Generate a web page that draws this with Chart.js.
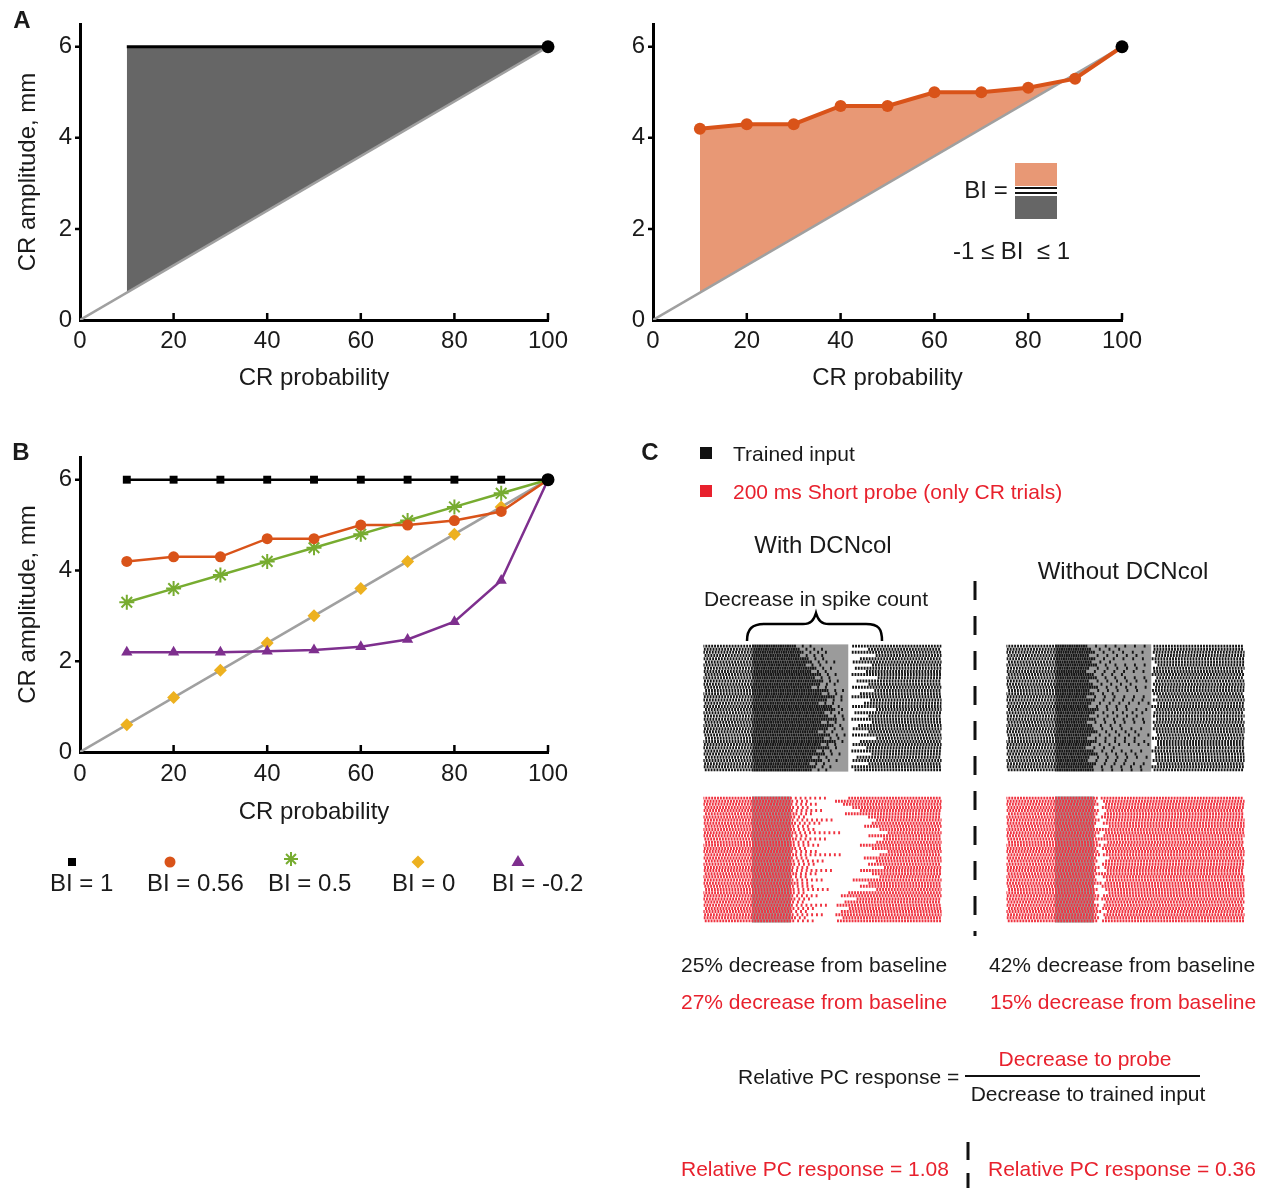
<!DOCTYPE html>
<html>
<head>
<meta charset="utf-8">
<script src="https://cdn.jsdelivr.net/npm/chart.js@4.4.1/dist/chart.umd.min.js"></script>
<style>
  body { margin: 0; background: #fff; }
  #fig { position: relative; width: 1270px; height: 1188px; overflow: hidden;
         font-family: 'Liberation Sans', Arial, sans-serif; color: #1a1a1a; }
  canvas { position: absolute; }
  .t { position: absolute; white-space: pre; line-height: 1; transform: translate(-50%, -50%); }
  .l { position: absolute; white-space: pre; line-height: 1; transform: translateY(-50%); }
  .s21 { font-size: 21px; }
  .s24 { font-size: 24px; }
  .bold { font-weight: bold; }
  .red { color: #E8212D; }
  .box { position: absolute; }
</style>
</head>
<body>
<div id="fig">
  <canvas id="a1" width="600" height="400" style="left:0;top:0"></canvas>
  <canvas id="a2" width="600" height="400" style="left:573px;top:0"></canvas>
  <canvas id="b" width="600" height="400" style="left:0;top:430px"></canvas>
  <canvas id="rTL" width="245" height="134" style="left:700px;top:641px"></canvas>
  <canvas id="rTR" width="245" height="134" style="left:1003px;top:641px"></canvas>
  <canvas id="rBL" width="245" height="133" style="left:700px;top:793px"></canvas>
  <canvas id="rBR" width="245" height="133" style="left:1003px;top:793px"></canvas>

  <svg width="1270" height="1188" style="position:absolute;left:0;top:0">
    <path d="M747,641 C747,629 752,624 765,624 L803,624 C811,624 814,620 816,613 C818,620 821,624 829,624 L866,624 C879,624 882,629 882,641"
          stroke="#000" stroke-width="2.5" fill="none"/>
    <line x1="975" y1="581" x2="975" y2="936" stroke="#111" stroke-width="3" stroke-dasharray="19 16"/>
    <line x1="968" y1="1142" x2="968" y2="1188" stroke="#111" stroke-width="3" stroke-dasharray="18 13"/>
    <g id="legendB"></g>
  </svg>

  <!-- panel letters -->
  <div class="t s24 bold" style="left:22px;top:20px">A</div>
  <div class="t s24 bold" style="left:21px;top:452px">B</div>
  <div class="t s24 bold" style="left:650px;top:452px">C</div>

  <!-- BI definition inside the right panel of A -->
  <div class="t s24" style="left:986px;top:190px">BI =</div>
  <div class="box" style="left:1015px;top:163px;width:42px;height:23px;background:rgba(217,83,25,0.6)"></div>
  <div class="box" style="left:1015px;top:187px;width:42px;height:2px;background:#111"></div>
  <div class="box" style="left:1015px;top:192px;width:42px;height:2px;background:#111"></div>
  <div class="box" style="left:1015px;top:196px;width:42px;height:23px;background:#666"></div>
  <div class="l s24" style="left:953px;top:251px">-1 ≤ BI  ≤ 1</div>

  <div id="legendBText"></div>

  <!-- panel C labels -->
  <div class="box" style="left:700px;top:447px;width:12px;height:12px;background:#111"></div>
  <div class="l s21" style="left:733px;top:453px">Trained input</div>
  <div class="box" style="left:700px;top:485px;width:12px;height:12px;background:#E8212D"></div>
  <div class="l s21 red" style="left:733px;top:491px">200 ms Short probe (only CR trials)</div>

  <div class="t s24" style="left:823px;top:545px">With DCNcol</div>
  <div class="t s24" style="left:1123px;top:571px">Without DCNcol</div>
  <div class="t s21" style="left:816px;top:598px">Decrease in spike count</div>

  <div class="l s21" style="left:681px;top:964px">25% decrease from baseline</div>
  <div class="l s21" style="left:989px;top:964px">42% decrease from baseline</div>
  <div class="l s21 red" style="left:681px;top:1001px">27% decrease from baseline</div>
  <div class="l s21 red" style="left:990px;top:1001px">15% decrease from baseline</div>

  <div class="l s21" style="left:738px;top:1076px">Relative PC response =</div>
  <div class="t s21 red" style="left:1085px;top:1058px">Decrease to probe</div>
  <div class="box" style="left:965px;top:1075px;width:235px;height:2px;background:#111"></div>
  <div class="t s21" style="left:1088px;top:1093px">Decrease to trained input</div>

  <div class="l s21 red" style="left:681px;top:1168px">Relative PC response = 1.08</div>
  <div class="l s21 red" style="left:988px;top:1168px">Relative PC response = 0.36</div>
</div>

<script>
// CR amplitude (mm) against CR probability (%)
const prob = [10, 20, 30, 40, 50, 60, 70, 80, 90, 100];
const diagX = [0, 100];
const diagY = [0, 6];
const bi1 = [6, 6, 6, 6, 6, 6, 6, 6, 6, 6];
const bi056 = [4.2, 4.3, 4.3, 4.7, 4.7, 5.0, 5.0, 5.1, 5.3, 6];
const bi05 = [3.3, 3.6, 3.9, 4.2, 4.5, 4.8, 5.1, 5.4, 5.7, 6];
const bi0 = [0.6, 1.2, 1.8, 2.4, 3.0, 3.6, 4.2, 4.8, 5.4, 6];
const biNeg02 = [2.2, 2.2, 2.2, 2.22, 2.25, 2.32, 2.48, 2.87, 3.78, 6];
const xTicks = [0, 20, 40, 60, 80, 100];
const yTicks = [0, 2, 4, 6];
const biLabels = ['BI = 1', 'BI = 0.56', 'BI = 0.5', 'BI = 0', 'BI = -0.2'];

// PC rasters: one row per trial, times in ms from CS onset
const rasterRows = 40;
const rasterWindow = [-250, 975];
const baseIsi = 15;
const rowPhase = [0, 7, 3, 11, 5, 13, 2, 9, 6, 12, 1, 8, 4, 10, 14];
const trainedShade = [0, 495];
const probeShade = [0, 200];

// with DCNcol, trained input
const tlOnset = [215, 240, 260, 235, 285, 300, 265, 320, 290, 345, 310, 360, 335, 300, 385, 350, 410, 370, 330, 395,
                 420, 365, 385, 425, 350, 405, 375, 330, 395, 360, 415, 340, 385, 320, 365, 300, 345, 280, 320, 300];
const tlQuiet = [340, 370, 390, 365, 405, 425, 385, 435, 405, 455, 425, 470, 445, 415, 480, 460, 490, 470, 440, 480,
                 490, 460, 470, 490, 450, 480, 470, 430, 480, 460, 490, 440, 470, 420, 460, 410, 450, 400, 430, 410];
const tlResume = [520, 600, 515, 640, 560, 520, 620, 530, 590, 515, 650, 540, 600, 520, 630, 560, 515, 610, 580, 520,
                  640, 530, 600, 515, 620, 550, 520, 600, 520, 640, 560, 520, 590, 515, 620, 540, 520, 600, 515, 530];
// without DCNcol, trained input
const trOnset = [150, 170, 190, 160, 200, 180, 210, 170, 150, 190, 200, 160, 180, 210, 170, 190, 150, 200, 180, 160,
                 210, 190, 170, 200, 150, 180, 190, 210, 170, 160, 200, 180, 150, 190, 210, 170, 160, 200, 180, 190];
const trQuiet = [470, 380, 490, 430, 485, 300, 480, 450, 490, 360, 475, 490, 420, 485, 470, 340, 490, 460, 485, 400,
                 480, 490, 440, 470, 490, 380, 485, 460, 490, 420, 475, 490, 350, 480, 460, 490, 410, 485, 470, 490];
const trResume = [500, 510, 505, 520, 500, 515, 530, 505, 510, 500, 525, 510, 505, 520, 500, 510, 530, 505, 515, 500,
                  520, 510, 505, 525, 500, 515, 505, 520, 510, 500, 530, 505, 515, 500, 520, 510, 505, 525, 500, 510];
// with DCNcol, short probe
const blOnset = [200, 205, 200, 210, 200, 215, 205, 200, 220, 200, 205, 210, 200, 215, 200, 205, 210, 200, 225, 205,
                 200, 210, 205, 200, 215, 200, 205, 220, 200, 210, 205, 200, 215, 205, 200, 210, 200, 205, 215, 200];
const blQuiet = [380, 300, 340, 290, 370, 320, 280, 420, 360, 300, 330, 450, 290, 400, 310, 350, 280, 330, 460, 300,
                 370, 320, 290, 410, 340, 280, 360, 300, 330, 390, 290, 350, 310, 280, 400, 320, 300, 360, 290, 330];
const blResume = [500, 430, 470, 520, 560, 480, 600, 640, 620, 580, 660, 700, 600, 680, 640, 560, 620, 700, 660, 580,
                  640, 600, 680, 560, 620, 660, 520, 600, 560, 640, 500, 460, 540, 480, 440, 500, 460, 430, 470, 440];
// without DCNcol, short probe
const brOnset = [190, 170, 185, 160, 200, 175, 150, 195, 180, 165, 200, 185, 160, 190, 175, 200, 155, 180, 195, 170,
                 185, 160, 200, 175, 190, 165, 180, 200, 155, 185, 170, 195, 180, 160, 190, 175, 200, 165, 185, 170];
const brQuiet = [230, 215, 225, 210, 235, 220, 205, 230, 220, 210, 235, 225, 205, 230, 215, 235, 210, 220, 230, 215,
                 225, 205, 235, 220, 230, 210, 220, 235, 205, 225, 215, 230, 220, 210, 230, 215, 235, 210, 225, 215];
const brResume = [240, 250, 260, 245, 270, 255, 240, 265, 250, 280, 245, 260, 250, 240, 270, 255, 245, 265, 250, 285,
                  260, 245, 255, 270, 240, 250, 265, 255, 245, 260, 280, 250, 240, 265, 255, 245, 270, 250, 260, 245];

Chart.defaults.font.family = "'Liberation Sans', Arial, sans-serif";
Chart.defaults.color = '#1a1a1a';

const ORANGE = '#D95319', GREEN = '#77AC30', YELLOW = '#EDB120', PURPLE = '#7E2F8E';
const GRAY_LINE = '#A0A0A0';

const pts = (xs, ys) => xs.map((x, i) => ({ x, y: ys[i] }));
const lastHidden = (r) => prob.map(v => (v < 100 ? r : 0));

// short inward ticks on x, outward ticks on y
const axisTicks = {
  id: 'axisTicks',
  afterDraw(chart) {
    const { ctx, chartArea: a, scales: { x, y } } = chart;
    ctx.save();
    ctx.strokeStyle = '#000';
    ctx.lineWidth = 2.5;
    ctx.beginPath();
    xTicks.slice(1).forEach(v => {
      const px = x.getPixelForValue(v);
      ctx.moveTo(px, a.bottom);
      ctx.lineTo(px, a.bottom - 7);
    });
    yTicks.slice(1).forEach(v => {
      const py = y.getPixelForValue(v);
      ctx.moveTo(a.left, py);
      ctx.lineTo(a.left - 5, py);
    });
    ctx.stroke();
    ctx.restore();
  }
};

function curveChart(id, datasets, g) {
  return new Chart(document.getElementById(id), {
    type: 'scatter',
    data: { datasets },
    options: {
      responsive: false,
      animation: false,
      events: [],
      layout: { padding: { left: 0, top: g.top, right: g.right, bottom: 0 } },
      plugins: {
        legend: { display: false },
        tooltip: { enabled: false },
        filler: { drawTime: 'beforeDatasetsDraw' }
      },
      scales: {
        x: {
          type: 'linear', min: 0, max: 100,
          grid: { display: false, drawTicks: false },
          border: { color: '#000', width: 3 },
          afterBuildTicks: s => { s.ticks = xTicks.map(v => ({ value: v })); },
          afterFit: s => { s.height = g.xHeight; },
          ticks: { font: { size: 24 }, padding: g.xTickPad, maxRotation: 0 },
          title: { display: true, text: 'CR probability', font: { size: 24 },
                   padding: { top: 0, bottom: g.xTitlePad } }
        },
        y: {
          type: 'linear', min: 0, max: 6.5,
          grid: { display: false, drawTicks: false },
          border: { color: '#000', width: 3 },
          afterBuildTicks: s => { s.ticks = yTicks.map(v => ({ value: v })); },
          afterFit: s => { s.width = 80; },
          ticks: { font: { size: 24 }, padding: 8 },
          title: { display: g.yTitle, text: 'CR amplitude, mm', font: { size: 24 },
                   padding: { top: 13.6, bottom: 0 } }
        }
      }
    },
    plugins: [axisTicks]
  });
}

const endDot = { data: [{ x: 100, y: 6 }], pointRadius: 6.5, pointBackgroundColor: '#000',
                 pointBorderWidth: 0, clip: false };
const diagonal = { data: pts(diagX, diagY), showLine: true, borderColor: GRAY_LINE,
                   borderWidth: 2.5, pointRadius: 0 };
const diagonalEdge = { data: pts(prob, bi0), showLine: true, borderColor: 'rgba(0,0,0,0)',
                       borderWidth: 0, pointRadius: 0 };

// A, left: BI = 1 area
curveChart('a1', [
  endDot,
  { ...diagonal },
  { data: pts(prob, bi1), showLine: true, borderColor: '#000', borderWidth: 3, pointRadius: 0,
    fill: '+1', backgroundColor: '#666666', clip: false },
  { ...diagonalEdge }
], { top: 24, right: 52, xHeight: 80, xTickPad: 6.6, xTitlePad: 7.6, yTitle: true });

// A, right: BI = 0.56 area
curveChart('a2', [
  endDot,
  { data: pts(prob, bi056), showLine: true, borderColor: ORANGE, borderWidth: 4,
    pointRadius: lastHidden(6), pointBackgroundColor: ORANGE, pointBorderWidth: 0,
    fill: '+2', backgroundColor: 'rgba(217,83,25,0.6)', clip: false },
  { ...diagonal },
  { ...diagonalEdge }
], { top: 24, right: 51, xHeight: 80, xTickPad: 6.6, xTitlePad: 7.6, yTitle: false });

// B: example curves for several BI values
const seriesB = [
  { values: bi1, color: '#000', style: 'rect', radius: 5.6, line: true },
  { values: bi056, color: ORANGE, style: 'circle', radius: 5.5, line: true },
  { values: bi05, color: GREEN, style: 'star', radius: 7.5, line: true },
  { values: bi0, color: YELLOW, style: 'rectRot', radius: 6.5, line: false },
  { values: biNeg02, color: PURPLE, style: 'triangle', radius: 6.5, line: true }
];
const bSets = seriesB.map(s => s.line ? {
  data: pts(prob, s.values), showLine: true, borderColor: s.color, borderWidth: 2.5,
  pointStyle: s.style, pointRadius: lastHidden(s.radius),
  pointBackgroundColor: s.color, pointBorderColor: s.color,
  pointBorderWidth: s.style === 'star' ? 2 : 0, clip: false
} : {
  data: pts(prob.slice(0, 9), s.values.slice(0, 9)), showLine: false,
  pointStyle: s.style, pointRadius: s.radius, pointBackgroundColor: s.color, pointBorderWidth: 0
});
// squares on top, then circles, stars, triangles, diamonds
curveChart('b', [endDot, bSets[0], bSets[1], bSets[2], bSets[4], bSets[3], { ...diagonal }],
  { top: 27, right: 52, xHeight: 78, xTickPad: 7.6, xTitlePad: 3.6, yTitle: true });

// legend for B: marker above each label
const legendMarkX = [72, 170, 291, 418, 518];
const legendTextX = [50, 147, 268, 392, 492];
const svgNS = 'http://www.w3.org/2000/svg';
const lg = document.getElementById('legendB');
function mk(tag, attrs) {
  const e = document.createElementNS(svgNS, tag);
  Object.entries(attrs).forEach(([k, v]) => e.setAttribute(k, v));
  lg.appendChild(e);
}
seriesB.forEach((s, i) => {
  const cx = legendMarkX[i], cy = 862;
  if (s.style === 'rect') mk('rect', { x: cx - 4, y: cy - 4, width: 8, height: 8, fill: s.color });
  if (s.style === 'circle') mk('circle', { cx, cy, r: 5.5, fill: s.color });
  if (s.style === 'star') {
    const r = 7, d = r * Math.SQRT1_2;
    mk('path', { d: `M${cx - r},${cy - 3}h${2 * r}M${cx},${cy - 3 - r}v${2 * r}M${cx - d},${cy - 3 - d}l${2 * d},${2 * d}M${cx - d},${cy - 3 + d}l${2 * d},${-2 * d}`,
                 stroke: s.color, 'stroke-width': 2, fill: 'none' });
  }
  if (s.style === 'rectRot') mk('path', { d: `M${cx},${cy - 6.5}l6.5,6.5l-6.5,6.5l-6.5,-6.5z`, fill: s.color });
  if (s.style === 'triangle') mk('path', { d: `M${cx},${cy - 7}l6.5,11h-13z`, fill: s.color });
  const t = document.createElement('div');
  t.className = 'l s24';
  t.style.left = legendTextX[i] + 'px';
  t.style.top = '883px';
  t.textContent = biLabels[i];
  document.getElementById('legendBText').appendChild(t);
});

// ---- rasters ----
function spikeTrain(r, p) {
  const out = [];
  const ph = rowPhase[r % rowPhase.length];
  let t = rasterWindow[0] + ph;
  while (t < rasterWindow[1]) {
    if (t < 0 || t >= p.resume[r]) {
      out.push({ x: t, y: r });
      t += baseIsi;
    } else if (t < p.onset[r]) {
      out.push({ x: t, y: r });
      t += p.denseIsi;
    } else if (t < p.quiet[r]) {
      out.push({ x: t, y: r });
      t += p.pauseIsi;
    } else {
      t = p.resume[r] + (ph % 5);
    }
  }
  return out;
}

const shadePlugin = {
  id: 'shade',
  beforeDatasetsDraw(chart, args, opts) {
    const { ctx, chartArea: a, scales: { x } } = chart;
    const x0 = x.getPixelForValue(opts.range[0]);
    const x1 = x.getPixelForValue(opts.range[1]);
    ctx.save();
    ctx.fillStyle = '#9b9b9b';
    ctx.fillRect(x0, a.top, x1 - x0, a.bottom - a.top);
    ctx.restore();
  }
};

// each spike is a short vertical tick
function raster(id, p, color, shade) {
  const data = [];
  for (let r = 0; r < rasterRows; r++) data.push(...spikeTrain(r, p));
  new Chart(document.getElementById(id), {
    type: 'scatter',
    data: { datasets: [{ data, pointStyle: 'line', pointRotation: 90, pointRadius: 1.5,
                         pointBorderWidth: 1.9, pointBorderColor: color,
                         pointBackgroundColor: color, pointHoverRadius: 0 }] },
    options: {
      responsive: false, animation: false, events: [],
      layout: { padding: 0 },
      plugins: { legend: { display: false }, tooltip: { enabled: false }, shade: { range: shade } },
      scales: {
        x: { type: 'linear', display: false, min: rasterWindow[0], max: rasterWindow[1] },
        y: { type: 'linear', display: false, min: -0.5, max: rasterRows - 0.5, reverse: true }
      }
    },
    plugins: [shadePlugin]
  });
}

raster('rTL', { onset: tlOnset, quiet: tlQuiet, resume: tlResume, denseIsi: 12, pauseIsi: 40 }, '#151515', trainedShade);
raster('rTR', { onset: trOnset, quiet: trQuiet, resume: trResume, denseIsi: 12, pauseIsi: 50 }, '#151515', trainedShade);
raster('rBL', { onset: blOnset, quiet: blQuiet, resume: blResume, denseIsi: 15, pauseIsi: 25 }, '#EF3340', probeShade);
raster('rBR', { onset: brOnset, quiet: brQuiet, resume: brResume, denseIsi: 15, pauseIsi: 15 }, '#EF3340', probeShade);
</script>
</body>
</html>
